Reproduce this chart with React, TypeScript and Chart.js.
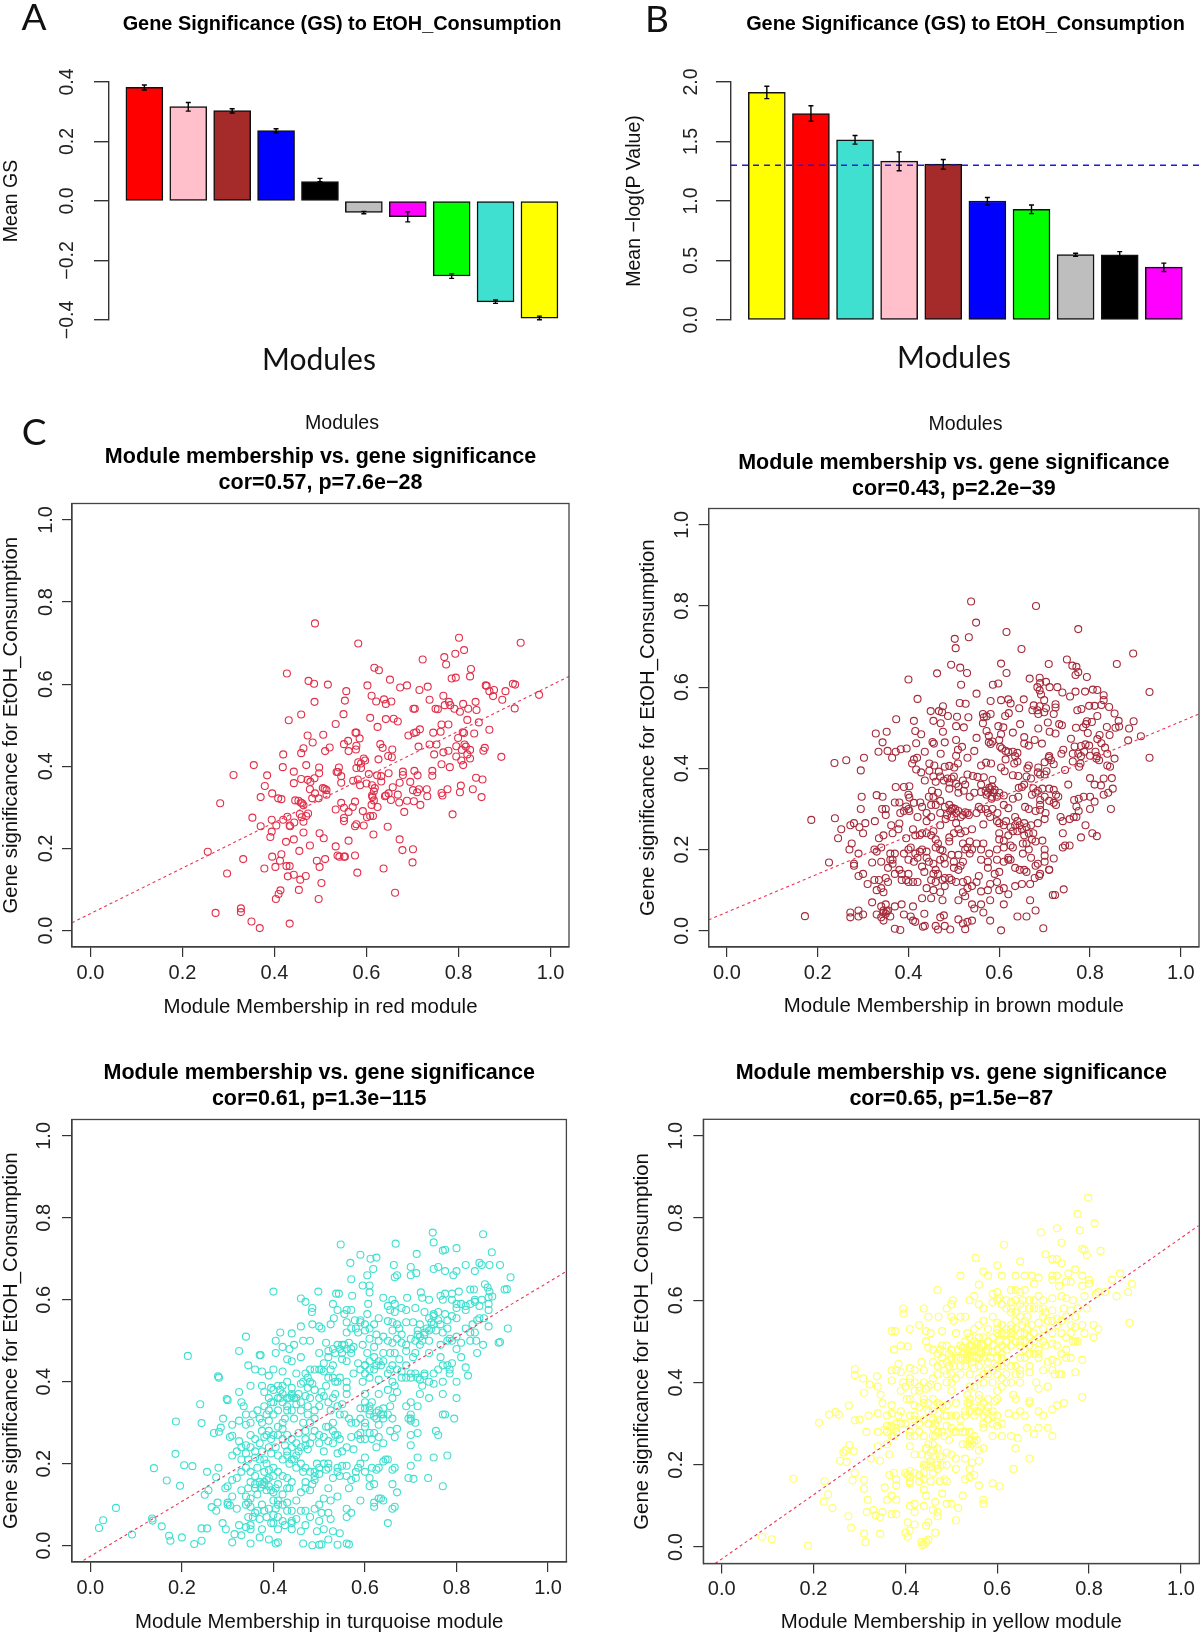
import React, { useEffect, useRef } from "react";
import { Chart, registerables } from "chart.js";

Chart.register(...registerables);

const panelAModules = ["red", "pink", "brown", "blue", "black", "grey", "magenta", "green", "turquoise", "yellow"];
const panelAColors = ["#ff0000", "#ffc0cb", "#a52a2a", "#0000ff", "#000000", "#bebebe", "#ff00ff", "#00ff00", "#40e0d0", "#ffff00"];
const panelAMeans = [0.382, 0.317, 0.304, 0.237, 0.065, -0.038, -0.053, -0.252, -0.339, -0.394];
const panelAErrHigh = [0.39, 0.331, 0.31, 0.243, 0.076, -0.035, -0.036, -0.245, -0.333, -0.387];
const panelAErrLow = [0.373, 0.302, 0.296, 0.229, 0.065, -0.043, -0.07, -0.26, -0.344, -0.399];

const panelBModules = ["yellow", "red", "turquoise", "pink", "brown", "blue", "green", "grey", "black", "magenta"];
const panelBColors = ["#ffff00", "#ff0000", "#40e0d0", "#ffc0cb", "#a52a2a", "#0000ff", "#00ff00", "#bebebe", "#000000", "#ff00ff"];
const panelBMeans = [1.913, 1.735, 1.514, 1.335, 1.31, 1.0, 0.93, 0.55, 0.547, 0.444];
const panelBErrHigh = [1.964, 1.8, 1.55, 1.413, 1.349, 1.03, 0.966, 0.561, 0.575, 0.478];
const panelBErrLow = [1.86, 1.67, 1.478, 1.254, 1.268, 0.966, 0.894, 0.536, 0.534, 0.408];
const panelBThreshold = 1.3;

const redFit = [[-0.04, 0.019], [1.04, 0.619]];
const brownFit = [[-0.04, 0.027], [1.04, 0.534]];
const turquoiseFit = [[-0.015, -0.036], [1.038, 0.668]];
const yellowFit = [[-0.014, -0.04], [1.038, 0.781]];

const redPoints = [[.488,.748],[.582,.699],[.935,.701],[.801,.713],[.812,.683],[.793,.674],[.769,.666],[.773,.648],[.722,.66],[.427,.626],[.617,.64],[.627,.634],[.827,.637],[.825,.619],[.785,.614],[.794,.616],[.651,.611],[.474,.608],[.486,.601],[.516,.599],[.602,.597],[.673,.592],[.688,.597],[.733,.594],[.859,.597],[.861,.596],[.918,.601],[.923,.599],[.556,.583],[.715,.586],[.867,.583],[.877,.586],[.902,.583],[.875,.571],[.975,.574],[.767,.572],[.611,.572],[.638,.563],[.621,.558],[.642,.552],[.654,.558],[.553,.56],[.487,.557],[.737,.562],[.779,.557],[.81,.552],[.837,.557],[.895,.562],[.77,.549],[.782,.549],[.702,.54],[.705,.54],[.75,.54],[.755,.539],[.791,.54],[.803,.533],[.821,.54],[.839,.537],[.922,.541],[.458,.526],[.55,.527],[.608,.518],[.642,.515],[.659,.516],[.668,.509],[.431,.512],[.533,.503],[.624,.496],[.716,.49],[.708,.483],[.763,.502],[.778,.502],[.819,.513],[.844,.507],[.809,.483],[.812,.481],[.745,.482],[.761,.484],[.834,.48],[.867,.489],[.472,.475],[.506,.477],[.576,.482],[.578,.482],[.585,.468],[.691,.475],[.703,.481],[.799,.469],[.483,.458],[.56,.462],[.551,.454],[.63,.454],[.635,.445],[.578,.45],[.577,.441],[.561,.437],[.52,.446],[.51,.437],[.463,.444],[.458,.432],[.419,.429],[.656,.441],[.713,.448],[.737,.453],[.752,.453],[.795,.449],[.813,.453],[.816,.448],[.767,.434],[.778,.438],[.747,.429],[.807,.44],[.825,.44],[.819,.429],[.825,.419],[.857,.445],[.854,.438],[.647,.425],[.655,.422],[.626,.417],[.594,.419],[.597,.414],[.795,.424],[.806,.414],[.81,.403],[.893,.423],[.582,.41],[.588,.407],[.355,.403],[.763,.405],[.469,.403],[.497,.397],[.418,.398],[.54,.397],[.578,.396],[.588,.396],[.781,.398],[.535,.386],[.538,.386],[.442,.387],[.497,.383],[.605,.381],[.704,.389],[.679,.387],[.679,.379],[.648,.383],[.623,.378],[.632,.376],[.632,.363],[.711,.378],[.743,.389],[.743,.377],[.311,.379],[.384,.378],[.545,.376],[.458,.369],[.472,.367],[.487,.371],[.478,.362],[.442,.359],[.379,.352],[.545,.36],[.571,.365],[.581,.368],[.586,.354],[.6,.358],[.612,.354],[.618,.347],[.616,.339],[.672,.36],[.695,.362],[.657,.349],[.805,.353],[.838,.372],[.852,.368],[.477,.344],[.505,.347],[.509,.345],[.513,.342],[.701,.342],[.71,.337],[.714,.344],[.731,.344],[.776,.344],[.763,.335],[.765,.329],[.803,.337],[.831,.344],[.488,.334],[.395,.334],[.37,.325],[.513,.331],[.496,.322],[.482,.322],[.408,.322],[.415,.32],[.612,.329],[.613,.325],[.616,.317],[.642,.329],[.648,.334],[.64,.327],[.668,.331],[.732,.327],[.85,.325],[.653,.318],[.671,.312],[.688,.316],[.703,.315],[.717,.306],[.282,.31],[.445,.317],[.452,.316],[.457,.312],[.46,.31],[.463,.305],[.545,.311],[.575,.314],[.551,.299],[.57,.301],[.611,.306],[.624,.301],[.533,.295],[.561,.289],[.592,.291],[.682,.289],[.787,.283],[.473,.285],[.455,.284],[.459,.276],[.469,.279],[.352,.275],[.394,.27],[.419,.27],[.428,.277],[.551,.274],[.551,.267],[.601,.276],[.608,.279],[.614,.279],[.463,.265],[.443,.263],[.433,.256],[.434,.254],[.578,.259],[.575,.254],[.594,.256],[.37,.254],[.404,.256],[.646,.253],[.394,.241],[.463,.239],[.391,.228],[.498,.237],[.507,.225],[.615,.234],[.442,.222],[.425,.216],[.561,.219],[.672,.222],[.255,.192],[.477,.207],[.533,.205],[.701,.198],[.678,.196],[.454,.194],[.415,.186],[.395,.18],[.332,.174],[.412,.17],[.537,.183],[.541,.18],[.551,.18],[.553,.18],[.575,.183],[.51,.174],[.492,.17],[.7,.166],[.378,.151],[.402,.155],[.426,.157],[.433,.157],[.498,.155],[.637,.151],[.297,.139],[.58,.141],[.429,.132],[.442,.136],[.468,.133],[.456,.124],[.502,.116],[.453,.099],[.413,.098],[.409,.089],[.403,.077],[.496,.077],[.662,.092],[.327,.054],[.327,.045],[.272,.043],[.35,.022],[.433,.017],[.368,.006]];

const brownPoints = [[.538,.811],[.681,.8],[.549,.759],[.774,.743],[.616,.736],[.533,.723],[.502,.719],[.504,.696],[.649,.694],[.895,.683],[.749,.668],[.761,.653],[.77,.65],[.604,.658],[.709,.657],[.859,.657],[.494,.655],[.514,.648],[.529,.635],[.463,.634],[.616,.635],[.774,.637],[.768,.63],[.793,.625],[.4,.619],[.667,.621],[.689,.623],[.586,.606],[.598,.609],[.516,.606],[.69,.61],[.703,.613],[.711,.6],[.728,.6],[.684,.6],[.689,.592],[.739,.587],[.768,.589],[.756,.577],[.789,.589],[.806,.594],[.816,.593],[.931,.588],[.83,.58],[.83,.568],[.55,.584],[.692,.582],[.699,.568],[.42,.571],[.604,.568],[.62,.57],[.625,.56],[.654,.57],[.581,.566],[.513,.561],[.526,.559],[.644,.548],[.676,.555],[.673,.543],[.689,.553],[.684,.543],[.703,.548],[.724,.558],[.724,.55],[.772,.543],[.781,.546],[.798,.554],[.81,.554],[.825,.556],[.842,.551],[.476,.553],[.449,.541],[.467,.541],[.474,.538],[.487,.529],[.507,.527],[.564,.534],[.581,.534],[.566,.526],[.572,.528],[.621,.536],[.613,.529],[.686,.534],[.699,.538],[.72,.534],[.532,.526],[.373,.521],[.412,.517],[.455,.517],[.471,.511],[.564,.511],[.646,.509],[.707,.513],[.732,.509],[.738,.506],[.793,.516],[.816,.529],[.854,.535],[.863,.517],[.896,.516],[.769,.5],[.785,.501],[.804,.514],[.791,.509],[.837,.502],[.505,.504],[.522,.501],[.598,.504],[.609,.501],[.856,.5],[.864,.503],[.886,.498],[.415,.492],[.428,.484],[.476,.49],[.572,.492],[.577,.48],[.63,.488],[.604,.484],[.686,.498],[.711,.49],[.724,.486],[.758,.473],[.795,.487],[.816,.472],[.328,.486],[.352,.49],[.821,.482],[.843,.482],[.912,.479],[.884,.469],[.505,.47],[.55,.475],[.655,.477],[.678,.47],[.694,.461],[.343,.464],[.417,.462],[.453,.465],[.456,.461],[.48,.464],[.577,.464],[.581,.46],[.585,.466],[.602,.453],[.614,.443],[.655,.461],[.665,.456],[.64,.438],[.766,.454],[.79,.459],[.798,.456],[.825,.462],[.833,.451],[.334,.441],[.354,.443],[.372,.441],[.383,.447],[.396,.449],[.364,.426],[.436,.441],[.471,.436],[.509,.446],[.518,.453],[.505,.431],[.545,.443],[.606,.449],[.63,.441],[.741,.446],[.737,.436],[.762,.436],[.774,.436],[.787,.441],[.812,.441],[.8,.431],[.814,.424],[.838,.436],[.854,.424],[.931,.426],[.302,.426],[.237,.413],[.263,.42],[.295,.395],[.412,.422],[.419,.426],[.408,.412],[.446,.412],[.457,.407],[.48,.404],[.49,.406],[.509,.412],[.501,.402],[.53,.426],[.56,.407],[.571,.414],[.582,.412],[.614,.422],[.64,.417],[.633,.412],[.665,.407],[.686,.402],[.709,.426],[.714,.42],[.72,.41],[.762,.417],[.779,.412],[.776,.404],[.838,.407],[.844,.404],[.417,.397],[.428,.39],[.446,.394],[.467,.392],[.604,.402],[.612,.393],[.662,.4],[.63,.383],[.704,.393],[.7,.385],[.745,.396],[.83,.375],[.8,.376],[.848,.376],[.752,.36],[.81,.36],[.824,.358],[.436,.37],[.46,.367],[.478,.37],[.486,.375],[.495,.375],[.505,.362],[.53,.385],[.542,.381],[.552,.379],[.566,.378],[.585,.372],[.56,.36],[.578,.352],[.584,.355],[.59,.347],[.6,.34],[.642,.381],[.66,.38],[.655,.36],[.643,.352],[.65,.354],[.675,.351],[.685,.345],[.71,.35],[.72,.347],[.372,.354],[.39,.354],[.402,.356],[.402,.328],[.412,.315],[.426,.316],[.445,.33],[.452,.345],[.465,.34],[.49,.35],[.51,.34],[.522,.345],[.535,.33],[.545,.34],[.56,.342],[.572,.335],[.584,.33],[.595,.33],[.61,.333],[.63,.325],[.642,.33],[.672,.335],[.69,.322],[.7,.33],[.725,.335],[.73,.33],[.765,.322],[.775,.325],[.786,.33],[.81,.318],[.83,.335],[.84,.34],[.85,.35],[.846,.3],[.8,.3],[.775,.295],[.77,.306],[.33,.334],[.343,.33],[.297,.33],[.295,.3],[.342,.3],[.35,.3],[.37,.316],[.38,.316],[.395,.306],[.402,.295],[.382,.29],[.35,.285],[.42,.28],[.44,.29],[.45,.31],[.46,.31],[.48,.305],[.49,.31],[.495,.3],[.503,.3],[.51,.295],[.52,.285],[.53,.29],[.55,.29],[.555,.305],[.57,.3],[.585,.3],[.596,.29],[.61,.31],[.62,.302],[.657,.305],[.665,.3],[.69,.298],[.72,.315],[.702,.29],[.735,.28],[.755,.275],[.764,.28],[.238,.277],[.186,.273],[.28,.265],[.305,.265],[.326,.27],[.272,.26],[.292,.255],[.252,.25],[.3,.24],[.362,.26],[.38,.264],[.378,.25],[.365,.24],[.41,.25],[.425,.236],[.44,.24],[.455,.245],[.47,.26],[.482,.275],[.495,.28],[.505,.265],[.51,.25],[.525,.245],[.54,.25],[.565,.262],[.58,.28],[.595,.27],[.61,.26],[.625,.255],[.64,.27],[.65,.25],[.665,.24],[.685,.265],[.7,.275],[.74,.24],[.78,.23],[.805,.24],[.815,.233],[.245,.228],[.335,.228],[.345,.235],[.395,.228],[.415,.235],[.46,.225],[.49,.23],[.535,.22],[.55,.215],[.565,.215],[.6,.225],[.61,.222],[.625,.21],[.64,.245],[.652,.215],[.672,.225],[.695,.222],[.74,.205],[.755,.21],[.275,.215],[.27,.2],[.29,.19],[.325,.2],[.33,.195],[.34,.205],[.36,.19],[.365,.175],[.39,.19],[.405,.205],[.425,.195],[.44,.195],[.46,.205],[.478,.18],[.495,.187],[.51,.187],[.525,.2],[.535,.19],[.56,.2],[.578,.19],[.595,.2],[.61,.205],[.63,.205],[.652,.19],[.665,.2],[.7,.2],[.7,.185],[.72,.178],[.225,.168],[.28,.165],[.28,.16],[.32,.168],[.34,.17],[.365,.165],[.4,.175],[.412,.17],[.43,.158],[.445,.17],[.455,.165],[.48,.165],[.5,.155],[.52,.17],[.56,.175],[.575,.17],[.595,.175],[.62,.175],[.645,.15],[.685,.165],[.69,.14],[.71,.15],[.29,.135],[.3,.14],[.335,.125],[.37,.14],[.38,.15],[.41,.12],[.435,.145],[.455,.14],[.475,.125],[.49,.13],[.51,.15],[.53,.125],[.555,.135],[.58,.115],[.6,.145],[.61,.105],[.635,.11],[.65,.115],[.668,.115],[.678,.13],[.688,.135],[.31,.115],[.325,.125],[.33,.1],[.345,.095],[.355,.12],[.385,.125],[.4,.12],[.42,.12],[.44,.105],[.455,.1],[.48,.11],[.505,.12],[.52,.095],[.525,.085],[.56,.097],[.575,.1],[.6,.1],[.62,.09],[.718,.088],[.723,.088],[.742,.102],[.32,.07],[.35,.065],[.37,.06],[.385,.065],[.41,.06],[.43,.08],[.45,.08],[.475,.075],[.51,.075],[.54,.065],[.56,.065],[.58,.075],[.61,.065],[.668,.075],[.172,.036],[.272,.045],[.29,.05],[.3,.04],[.272,.033],[.29,.035],[.33,.04],[.34,.033],[.345,.045],[.352,.048],[.36,.035],[.39,.04],[.405,.035],[.435,.042],[.47,.033],[.478,.038],[.51,.028],[.545,.055],[.565,.045],[.64,.035],[.66,.035],[.68,.05],[.41,.025],[.415,.022],[.345,.025],[.37,.005],[.382,.002],[.432,.01],[.436,.012],[.46,.012],[.465,.003],[.48,.012],[.492,.003],[.52,.018],[.525,.004],[.53,.022],[.54,.025],[.58,.025],[.604,.001],[.697,.006]];

const brownCore = [[.4,.335],[.43,.305],[.47,.29],[.485,.285],[.492,.295],[.498,.302],[.505,.29],[.515,.28],[.525,.292],[.533,.285],[.57,.345],[.575,.34],[.58,.348],[.588,.34],[.583,.325],[.56,.3],[.575,.29],[.6,.265],[.615,.27],[.635,.26],[.645,.26],[.655,.265],[.63,.245],[.635,.28],[.66,.255],[.675,.24],[.68,.22],[.66,.215],[.43,.24],[.45,.235],[.465,.215],[.47,.2],[.475,.198],[.49,.22],[.5,.24],[.515,.24],[.52,.215],[.53,.205],[.54,.2],[.43,.2],[.42,.18],[.44,.18],[.47,.175],[.46,.15],[.465,.14],[.52,.12],[.53,.105],[.54,.11],[.55,.12],[.46,.12],[.45,.125],[.47,.095],[.48,.13],[.495,.125],[.4,.14],[.395,.125],[.385,.14],[.35,.13],[.34,.105],[.36,.175],[.37,.19],[.355,.155],[.4,.2],[.415,.19],[.345,.05],[.35,.042],[.355,.05],[.34,.06],[.5,.17],[.515,.16],[.575,.155],[.59,.14],[.595,.12],[.61,.17],[.62,.18],[.625,.175],[.635,.155],[.655,.15],[.66,.145],[.68,.16],[.7,.17],[.71,.15],[.67,.18],[.6,.24],[.62,.235],[.655,.235],[.67,.26],[.68,.295],[.69,.31],[.71,.32],[.725,.31],[.74,.27],[.745,.21],[.77,.28],[.79,.26],[.8,.33],[.52,.37],[.5,.38],[.47,.38],[.455,.38],[.49,.365],[.51,.355],[.525,.36],[.68,.34],[.695,.35],[.67,.375],[.685,.39],[.69,.385],[.7,.415],[.71,.43],[.78,.43],[.78,.455],[.815,.43],[.82,.42],[.6,.47],[.62,.44],[.635,.43],[.455,.33],[.47,.32],[.44,.27],[.45,.28],[.39,.295],[.4,.3]];

const turquoisePoints = [[.019,.043],[.028,.062],[.056,.092],[.091,.027],[.135,.066],[.136,.061],[.139,.189],[.156,.047],[.167,.159],[.172,.024],[.175,.012],[.187,.303],[.186,.224],[.196,.146],[.2,.02],[.205,.196],[.213,.463],[.223,.194],[.227,.004],[.24,.345],[.243,.299],[.243,.042],[.243,.012],[.255,.042],[.255,.18],[.258,.135],[.25,.124],[.265,.094],[.27,.275],[.275,.167],[.275,.085],[.278,.105],[.281,.278],[.279,.413],[.281,.41],[.28,.19],[.285,.288],[.29,.31],[.289,.055],[.296,.04],[.298,.358],[.3,.105],[.305,.098],[.31,.268],[.748,.764],[.858,.76],[.75,.74],[.667,.737],[.547,.735],[.77,.72],[.775,.722],[.8,.726],[.877,.716],[.713,.712],[.59,.71],[.625,.703],[.612,.7],[.568,.69],[.663,.685],[.7,.68],[.76,.68],[.82,.685],[.85,.69],[.855,.685],[.872,.685],[.895,.685],[.618,.675],[.75,.675],[.775,.67],[.8,.67],[.605,.66],[.7,.66],[.712,.665],[.665,.655],[.67,.66],[.793,.66],[.918,.655],[.84,.67],[.57,.65],[.595,.635],[.61,.635],[.4,.62],[.498,.62],[.537,.615],[.543,.615],[.61,.618],[.862,.638],[.868,.63],[.872,.62],[.87,.606],[.878,.608],[.905,.625],[.91,.626],[.83,.625],[.838,.625],[.805,.62],[.722,.618],[.64,.605],[.692,.605],[.725,.605],[.765,.61],[.775,.615],[.79,.615],[.74,.6],[.77,.6],[.79,.6],[.8,.59],[.82,.585],[.84,.595],[.85,.585],[.46,.603],[.47,.595],[.485,.58],[.53,.59],[.54,.575],[.57,.575],[.572,.61],[.607,.59],[.65,.585],[.655,.575],[.665,.57],[.69,.575],[.71,.58],[.73,.57],[.75,.565],[.775,.565],[.8,.555],[.82,.575],[.845,.55],[.87,.575],[.484,.57],[.5,.535],[.525,.54],[.532,.555],[.555,.565],[.578,.55],[.59,.55],[.605,.565],[.63,.555],[.65,.548],[.69,.545],[.705,.545],[.72,.54],[.745,.545],[.76,.55],[.78,.53],[.82,.53],[.86,.555],[.87,.535],[.912,.53],[.46,.535],[.485,.54],[.505,.53],[.56,.52],[.585,.52],[.6,.525],[.625,.515],[.66,.525],[.675,.53],[.715,.525],[.73,.52],[.755,.525],[.785,.505],[.84,.52],[.415,.52],[.44,.518],[.48,.5],[.465,.5],[.445,.49],[.515,.495],[.54,.49],[.555,.49],[.575,.485],[.595,.49],[.61,.505],[.65,.5],[.68,.495],[.72,.51],[.74,.5],[.765,.49],[.81,.495],[.83,.5],[.843,.5],[.892,.495],[.895,.497],[.858,.49],[.405,.5],[.42,.485],[.435,.48],[.34,.51],[.325,.475],[.405,.47],[.43,.455],[.44,.45],[.37,.465],[.372,.465],[.345,.44],[.46,.46],[.5,.47],[.52,.46],[.55,.47],[.57,.47],[.585,.445],[.62,.46],[.64,.45],[.665,.47],[.69,.475],[.71,.47],[.74,.47],[.765,.46],[.79,.445],[.81,.46],[.845,.47],[.36,.43],[.375,.425],[.4,.43],[.39,.415],[.42,.425],[.45,.42],[.475,.41],[.49,.43],[.505,.43],[.525,.43],[.545,.41],[.575,.42],[.6,.44],[.62,.43],[.655,.43],[.68,.425],[.7,.42],[.73,.415],[.76,.43],[.785,.42],[.82,.435],[.825,.415],[.35,.39],[.375,.39],[.395,.385],[.415,.38],[.44,.385],[.465,.4],[.485,.395],[.515,.39],[.535,.4],[.56,.385],[.595,.4],[.63,.405],[.665,.39],[.69,.41],[.725,.39],[.75,.395],[.8,.4],[.325,.375],[.3,.355],[.33,.35],[.335,.34],[.38,.375],[.41,.36],[.435,.36],[.455,.37],[.48,.36],[.505,.375],[.53,.36],[.56,.37],[.6,.35],[.63,.37],[.67,.375],[.7,.35],[.72,.37],[.74,.36],[.77,.37],[.8,.36],[.34,.32],[.355,.32],[.365,.33],[.385,.32],[.395,.35],[.43,.33],[.46,.33],[.475,.34],[.5,.34],[.525,.33],[.555,.32],[.59,.335],[.61,.32],[.625,.325],[.64,.335],[.66,.31],[.695,.31],[.7,.305],[.715,.34],[.77,.32],[.775,.32],[.795,.31],[.325,.305],[.34,.295],[.31,.295],[.375,.3],[.39,.305],[.42,.3],[.445,.31],[.465,.3],[.49,.31],[.52,.29],[.545,.32],[.565,.31],[.58,.3],[.6,.29],[.63,.295],[.655,.28],[.67,.285],[.7,.27],[.715,.275],[.755,.28],[.76,.27],[.36,.26],[.375,.28],[.395,.26],[.42,.285],[.455,.275],[.47,.26],[.5,.27],[.53,.28],[.54,.27],[.59,.275],[.615,.26],[.64,.25],[.665,.265],[.7,.245],[.305,.265],[.325,.255],[.34,.245],[.31,.22],[.33,.21],[.34,.225],[.375,.23],[.39,.24],[.405,.24],[.43,.23],[.455,.23],[.475,.235],[.51,.23],[.54,.225],[.575,.235],[.6,.215],[.625,.24],[.645,.21],[.715,.215],[.75,.215],[.78,.22],[.35,.18],[.365,.19],[.385,.2],[.4,.19],[.42,.21],[.45,.19],[.48,.18],[.495,.2],[.52,.19],[.55,.195],[.585,.19],[.615,.19],[.625,.185],[.66,.185],[.665,.19],[.7,.195],[.695,.165],[.706,.163],[.738,.165],[.77,.145],[.295,.14],[.33,.135],[.36,.15],[.38,.155],[.375,.15],[.385,.16],[.41,.15],[.435,.14],[.44,.155],[.47,.155],[.49,.16],[.545,.17],[.56,.17],[.58,.165],[.61,.165],[.66,.15],[.31,.12],[.345,.105],[.36,.14],[.385,.135],[.42,.125],[.46,.13],[.48,.135],[.52,.14],[.54,.12],[.565,.14],[.59,.11],[.62,.105],[.635,.115],[.67,.13],[.3,.1],[.32,.09],[.35,.095],[.375,.1],[.4,.11],[.405,.09],[.44,.085],[.46,.085],[.49,.09],[.505,.08],[.525,.11],[.56,.09],[.57,.08],[.62,.095],[.66,.09],[.665,.095],[.345,.07],[.365,.085],[.385,.07],[.41,.07],[.425,.05],[.44,.055],[.47,.05],[.5,.06],[.525,.065],[.56,.07],[.65,.055],[.325,.05],[.34,.045],[.35,.04],[.375,.04],[.395,.055],[.44,.04],[.46,.035],[.495,.035],[.51,.04],[.53,.035],[.315,.028],[.33,.025],[.35,.005],[.31,.008],[.37,.02],[.39,.015],[.405,.005],[.41,.008],[.465,.005],[.485,.001],[.5,.002],[.505,.003],[.52,.015],[.54,.002],[.545,.03],[.56,.005],[.565,.003]];

const turquoiseCore = [[.37,.155],[.38,.148],[.372,.142],[.39,.165],[.39,.145],[.395,.135],[.4,.13],[.405,.14],[.4,.17],[.36,.17],[.35,.155],[.365,.125],[.38,.18],[.39,.185],[.41,.18],[.42,.17],[.43,.165],[.345,.14],[.35,.115],[.34,.12],[.4,.075],[.41,.1],[.39,.09],[.42,.1],[.43,.105],[.45,.11],[.43,.085],[.38,.085],[.37,.065],[.4,.055],[.41,.04],[.45,.065],[.47,.085],[.48,.07],[.5,.1],[.51,.115],[.52,.08],[.53,.165],[.5,.175],[.515,.185],[.49,.18],[.47,.19],[.465,.18],[.46,.2],[.445,.21],[.44,.24],[.425,.245],[.41,.22],[.395,.225],[.36,.215],[.345,.21],[.35,.24],[.37,.25],[.385,.27],[.4,.27],[.41,.29],[.425,.31],[.43,.34],[.44,.33],[.45,.345],[.42,.35],[.41,.33],[.4,.32],[.39,.33],[.42,.37],[.43,.36],[.44,.365],[.45,.36],[.46,.35],[.47,.365],[.475,.385],[.48,.4],[.49,.38],[.5,.36],[.51,.365],[.52,.35],[.535,.37],[.54,.34],[.55,.345],[.49,.33],[.475,.32],[.48,.3],[.47,.28],[.485,.265],[.47,.245],[.48,.25],[.49,.28],[.5,.25],[.51,.265],[.52,.255],[.53,.25],[.515,.29],[.53,.3],[.535,.27],[.545,.26],[.56,.24],[.55,.23],[.57,.265],[.57,.3],[.585,.27],[.59,.26],[.6,.26],[.61,.275],[.62,.275],[.63,.265],[.6,.3],[.59,.31],[.61,.33],[.62,.315],[.625,.31],[.635,.32],[.63,.33],[.64,.32],[.65,.32],[.61,.34],[.615,.35],[.6,.37],[.6,.335],[.64,.31],[.655,.34],[.66,.36],[.65,.38],[.61,.41],[.6,.42],[.59,.43],[.61,.43],[.625,.44],[.635,.44],[.65,.42],[.66,.44],[.675,.455],[.69,.44],[.7,.41],[.71,.42],[.715,.41],[.72,.405],[.73,.42],[.74,.4],[.75,.42],[.77,.4],[.785,.43],[.7,.505],[.71,.5],[.715,.515],[.725,.5],[.73,.515],[.735,.53],[.74,.525],[.745,.53],[.75,.54],[.74,.555],[.72,.49],[.705,.46],[.69,.49],[.68,.515],[.67,.505],[.66,.495],[.64,.51],[.63,.5],[.62,.485],[.605,.47],[.53,.48],[.535,.47],[.545,.48],[.55,.49],[.56,.48],[.565,.495],[.57,.48],[.52,.475],[.51,.445],[.53,.44],[.55,.455],[.56,.45],[.52,.41],[.53,.41],[.54,.4],[.56,.4],[.51,.425],[.5,.43],[.48,.43],[.47,.42],[.46,.395],[.43,.4],[.415,.36],[.44,.37],[.445,.36],[.77,.44],[.78,.44],[.8,.48],[.79,.5],[.8,.51],[.77,.52],[.765,.54],[.78,.5],[.67,.54],[.66,.545],[.68,.58],[.665,.59],[.66,.6],[.62,.54],[.61,.53],[.6,.54],[.59,.545],[.58,.53],[.56,.545],[.57,.53],[.56,.575],[.75,.56],[.76,.57],[.78,.55],[.79,.56],[.8,.58],[.81,.59],[.83,.59],[.84,.6],[.855,.6],[.87,.59],[.85,.555],[.835,.54],[.83,.52],[.44,.21],[.435,.2],[.43,.22],[.45,.22],[.46,.24],[.45,.25],[.44,.26],[.43,.27],[.42,.26],[.41,.27],[.33,.24],[.32,.23],[.34,.19],[.33,.18],[.32,.165],[.31,.16],[.3,.145],[.34,.1],[.36,.08],[.355,.07],[.35,.05],[.41,.11],[.42,.06],[.44,.06],[.43,.14],[.47,.14],[.485,.15],[.49,.17],[.5,.19],[.51,.2],[.52,.2],[.54,.19],[.54,.18],[.56,.195],[.57,.16],[.58,.18],[.59,.2],[.6,.18],[.61,.145],[.62,.15],[.63,.19],[.64,.205],[.65,.21],[.63,.115],[.64,.11],[.36,.23],[.37,.21],[.38,.21],[.38,.265],[.39,.28],[.35,.3],[.35,.27],[.37,.31],[.38,.34],[.39,.36],[.4,.38],[.4,.35],[.41,.39],[.42,.39],[.6,.44],[.61,.45],[.63,.45],[.64,.47],[.655,.47],[.67,.43],[.68,.41],[.66,.4],[.69,.34],[.7,.32],[.7,.31],[.71,.3]];

const yellowPoints = [[.088,.025],[.109,.019],[.188,.003],[.156,.166],[.224,.16],[.222,.11],[.232,.128],[.241,.095],[.212,.302],[.234,.322],[.248,.328],[.255,.322],[.277,.344],[.29,.308],[.3,.31],[.276,.075],[.282,.047],[.31,.033],[.313,.012],[.258,.21],[.265,.23],[.27,.235],[.278,.248],[.288,.233],[.272,.207],[.29,.18],[.285,.162],[.31,.163],[.31,.142],[.318,.115],[.316,.085],[.33,.09],[.335,.077],[.345,.073],[.345,.032],[.29,.433],[.29,.418],[.308,.41],[.322,.395],[.338,.415],[.34,.39],[.31,.375],[.346,.37],[.35,.35],[.32,.32],[.34,.325],[.325,.215],[.34,.245],[.345,.21],[.36,.25],[.365,.225],[.315,.28],[.34,.28],[.355,.285],[.37,.295],[.38,.29],[.39,.3],[.36,.32],[.37,.325],[.385,.32],[.37,.345],[.39,.33],[.403,.36],[.37,.43],[.38,.43],[.385,.445],[.39,.425],[.37,.405],[.395,.4],[.39,.38],[.37,.525],[.378,.525],[.375,.48],[.39,.49],[.405,.488],[.41,.53],[.395,.58],[.396,.568],[.44,.58],[.45,.56],[.47,.625],[.5,.56],[.505,.55],[.49,.58],[.5,.59],[.503,.6],[.52,.56],[.53,.56],[.54,.6],[.55,.61],[.56,.59],[.57,.58],[.51,.52],[.535,.52],[.472,.56],[.43,.54],[.445,.525],[.455,.52],[.48,.525],[.445,.5],[.45,.485],[.46,.48],[.475,.48],[.49,.49],[.495,.47],[.515,.48],[.525,.485],[.535,.47],[.535,.455],[.54,.49],[.545,.475],[.55,.5],[.555,.46],[.56,.485],[.565,.47],[.57,.51],[.575,.475],[.58,.53],[.59,.475],[.605,.5],[.61,.54],[.62,.5],[.63,.51],[.64,.53],[.65,.52],[.66,.48],[.67,.47],[.68,.52],[.69,.48],[.41,.435],[.42,.43],[.435,.45],[.44,.43],[.46,.45],[.47,.44],[.48,.445],[.495,.44],[.505,.44],[.52,.44],[.53,.44],[.55,.435],[.56,.44],[.58,.45],[.6,.44],[.61,.46],[.62,.45],[.65,.43],[.67,.425],[.7,.43],[.71,.45],[.72,.43],[.735,.42],[.41,.4],[.42,.38],[.43,.39],[.445,.385],[.455,.395],[.47,.39],[.49,.4],[.5,.4],[.51,.41],[.54,.42],[.56,.41],[.57,.42],[.59,.4],[.61,.39],[.63,.4],[.65,.4],[.685,.4],[.69,.385],[.71,.39],[.41,.36],[.42,.345],[.44,.35],[.46,.36],[.475,.345],[.49,.345],[.51,.35],[.535,.37],[.54,.35],[.56,.37],[.58,.36],[.595,.355],[.635,.37],[.64,.36],[.67,.355],[.67,.35],[.72,.335],[.73,.345],[.745,.35],[.785,.365],[.42,.31],[.43,.3],[.45,.3],[.465,.3],[.485,.32],[.5,.32],[.52,.31],[.54,.33],[.56,.33],[.57,.32],[.59,.3],[.6,.32],[.625,.325],[.64,.32],[.65,.33],[.66,.32],[.69,.33],[.7,.32],[.41,.28],[.44,.27],[.46,.27],[.48,.28],[.49,.295],[.505,.28],[.52,.29],[.53,.28],[.57,.29],[.59,.27],[.6,.295],[.61,.27],[.63,.27],[.645,.265],[.665,.29],[.68,.275],[.69,.29],[.71,.29],[.72,.27],[.41,.245],[.42,.225],[.435,.225],[.445,.24],[.45,.22],[.46,.235],[.48,.22],[.49,.23],[.5,.225],[.525,.25],[.535,.25],[.54,.245],[.545,.26],[.55,.255],[.56,.235],[.57,.24],[.64,.24],[.67,.215],[.445,.2],[.455,.195],[.465,.2],[.49,.2],[.51,.215],[.53,.215],[.545,.205],[.56,.21],[.51,.19],[.54,.19],[.55,.175],[.365,.175],[.375,.18],[.38,.165],[.405,.175],[.41,.185],[.43,.175],[.44,.165],[.455,.16],[.475,.16],[.485,.165],[.53,.165],[.54,.17],[.56,.15],[.59,.155],[.605,.148],[.635,.19],[.355,.145],[.37,.125],[.38,.15],[.41,.155],[.44,.14],[.445,.125],[.465,.11],[.48,.13],[.525,.125],[.36,.115],[.38,.115],[.37,.08],[.38,.08],[.35,.085],[.41,.1],[.42,.105],[.42,.085],[.44,.1],[.46,.09],[.47,.085],[.47,.075],[.49,.105],[.5,.105],[.515,.095],[.57,.105],[.57,.115],[.405,.06],[.42,.055],[.445,.052],[.45,.06],[.41,.04],[.4,.035],[.405,.025],[.465,.035],[.51,.065],[.435,.012],[.437,.005],[.44,.008],[.445,.012],[.45,.018],[.798,.849],[.775,.81],[.812,.787],[.73,.775],[.695,.765],[.78,.77],[.74,.74],[.615,.735],[.785,.725],[.79,.722],[.795,.71],[.825,.72],[.705,.712],[.72,.7],[.73,.7],[.74,.69],[.553,.703],[.65,.695],[.6,.685],[.57,.67],[.58,.66],[.56,.638],[.52,.66],[.61,.66],[.64,.66],[.66,.66],[.675,.66],[.69,.655],[.72,.66],[.73,.66],[.72,.65],[.77,.675],[.755,.665],[.785,.66],[.8,.65],[.75,.645],[.76,.645],[.867,.665],[.85,.65],[.68,.64],[.735,.635],[.785,.635],[.8,.64],[.893,.64],[.885,.62],[.63,.625],[.64,.625],[.65,.62],[.66,.625],[.59,.615],[.6,.62],[.605,.605],[.62,.6],[.64,.6],[.655,.6],[.69,.61],[.72,.605],[.74,.61],[.75,.605],[.765,.6],[.79,.61],[.815,.615],[.82,.62],[.835,.62],[.86,.61],[.59,.595],[.63,.595],[.65,.59],[.67,.58],[.68,.58],[.7,.58],[.72,.575],[.745,.58],[.76,.575],[.775,.58],[.795,.58],[.63,.57],[.65,.56],[.665,.56],[.69,.545],[.72,.55],[.73,.555],[.75,.56],[.77,.535],[.785,.54],[.81,.54],[.82,.53],[.888,.545],[.6,.545],[.61,.54],[.63,.52],[.7,.53],[.74,.52],[.75,.51],[.765,.5],[.775,.5],[.79,.52],[.81,.51],[.72,.495],[.73,.49],[.75,.48],[.69,.47],[.705,.49],[.74,.47],[.75,.46],[.76,.46],[.72,.455],[.73,.45],[.785,.455],[.77,.425],[.725,.42],[.74,.42]];

const yellowCore = [[.525,.47],[.53,.46],[.535,.48],[.54,.46],[.54,.475],[.545,.45],[.545,.49],[.55,.465],[.55,.48],[.555,.475],[.555,.495],[.56,.46],[.565,.49],[.57,.46],[.57,.49],[.58,.48],[.585,.46],[.59,.49],[.6,.48],[.61,.49],[.52,.49],[.53,.5],[.54,.51],[.56,.51],[.6,.53],[.61,.52],[.62,.53],[.63,.54],[.64,.55],[.655,.54],[.66,.55],[.66,.52],[.665,.53],[.67,.51],[.675,.54],[.64,.5],[.65,.49],[.63,.49],[.62,.48],[.61,.47],[.64,.57],[.655,.58],[.67,.6],[.68,.6],[.69,.58],[.7,.6],[.71,.55],[.705,.57],[.63,.58],[.62,.58],[.61,.59],[.6,.6],[.59,.56],[.57,.55],[.56,.54],[.55,.53],[.445,.24],[.45,.25],[.455,.23],[.455,.21],[.46,.22],[.45,.2],[.46,.25],[.465,.27],[.47,.24],[.475,.22],[.48,.2],[.47,.19],[.49,.16],[.485,.27],[.495,.26],[.5,.29],[.51,.28],[.525,.28],[.54,.28],[.545,.25],[.55,.27],[.555,.26],[.54,.26],[.53,.33],[.535,.35],[.54,.36],[.55,.34],[.555,.33],[.565,.34],[.57,.35],[.575,.33],[.58,.34],[.59,.33],[.6,.36],[.6,.38],[.62,.4],[.61,.41],[.62,.42],[.6,.42],[.58,.42],[.57,.4],[.55,.39],[.54,.39],[.5,.38],[.48,.34],[.47,.35],[.46,.33],[.45,.35],[.44,.36],[.43,.34],[.42,.32],[.41,.32],[.4,.3],[.41,.27],[.42,.27],[.43,.28],[.37,.27],[.36,.28],[.38,.3],[.36,.295],[.375,.27],[.38,.28],[.5,.42],[.49,.42],[.485,.43],[.47,.42],[.46,.41],[.45,.39],[.44,.4],[.43,.38],[.42,.4],[.41,.41],[.4,.39],[.52,.42],[.5,.46],[.49,.45],[.48,.46],[.47,.47],[.48,.49],[.5,.48],[.51,.46],[.52,.46],[.58,.43],[.59,.43],[.6,.46],[.63,.44],[.64,.44],[.65,.46],[.66,.46],[.67,.44],[.68,.47],[.69,.46],[.7,.5],[.69,.51],[.68,.5],[.67,.49],[.66,.5],[.65,.5],[.58,.5],[.59,.51],[.6,.52],[.62,.52],[.63,.53],[.7,.56],[.72,.52],[.73,.54],[.74,.55],[.76,.54],[.77,.56],[.76,.52],[.77,.5],[.64,.42],[.65,.42],[.61,.44],[.56,.36],[.55,.32],[.57,.3],[.58,.31],[.59,.32],[.61,.3],[.53,.32],[.51,.32],[.49,.32],[.47,.31],[.46,.31],[.44,.31],[.45,.33],[.46,.29],[.47,.28],[.44,.2],[.47,.2],[.46,.18],[.44,.18],[.43,.16],[.41,.16],[.4,.18],[.41,.17],[.42,.18]];

const TXT = "Liberation Sans, Arial, sans-serif";
const AX = "#333333";

const toXY = (rows: number[][]) => rows.map((r) => ({ x: r[0], y: r[1] }));

function fixedBox(size: number) {
  return (s: any) => {
    if (s.isHorizontal()) s.height = size;
    else s.width = size;
    s.paddingLeft = s.paddingRight = s.paddingTop = s.paddingBottom = 0;
  };
}

const errorBars = (low: number[], high: number[]) => ({
  id: "errorBars",
  afterDatasetsDraw(chart: any) {
    const { ctx, scales } = chart;
    ctx.save();
    ctx.strokeStyle = "#000";
    ctx.lineWidth = 1.4;
    low.forEach((lo, i) => {
      const x = scales.x.getPixelForValue(i);
      const a = scales.y.getPixelForValue(lo);
      const b = scales.y.getPixelForValue(high[i]);
      ctx.beginPath();
      ctx.moveTo(x, a);
      ctx.lineTo(x, b);
      ctx.moveTo(x - 2.5, a);
      ctx.lineTo(x + 2.5, a);
      ctx.moveTo(x - 2.5, b);
      ctx.lineTo(x + 2.5, b);
      ctx.stroke();
    });
    ctx.restore();
  },
});

const plotFrame = {
  id: "plotFrame",
  afterDraw(chart: any) {
    const { ctx, chartArea: c } = chart;
    ctx.save();
    ctx.strokeStyle = "#444";
    ctx.lineWidth = 1.3;
    ctx.strokeRect(c.left, c.top, c.right - c.left, c.bottom - c.top);
    ctx.restore();
  },
};

function barConfig(p: any) {
  const datasets: any[] = [];
  if (p.threshold !== undefined) {
    datasets.push({
      type: "line",
      data: [{ x: p.xMin, y: p.threshold }, { x: p.xMax, y: p.threshold }],
      borderColor: "#1a1ae6",
      borderWidth: 1.6,
      borderDash: [6, 5],
      pointRadius: 0,
    });
  }
  datasets.push({
    type: "bar",
    label: "Modules",
    data: p.means.map((v: number, i: number) => ({ x: i, y: v, module: p.modules[i] })),
    backgroundColor: p.colors,
    borderColor: "#111",
    borderWidth: 1.5,
    borderSkipped: false,
    barThickness: 37,
  });
  return {
    type: "bar",
    data: { datasets },
    plugins: [errorBars(p.low, p.high)],
    options: {
      responsive: false,
      animation: false,
      layout: { padding: 0, autoPadding: false },
      plugins: {
        legend: { display: false },
        tooltip: { enabled: false },
        title: {
          display: true,
          fullSize: false,
          text: "Gene Significance (GS) to EtOH_Consumption",
          color: "#000",
          font: { family: TXT, size: 19.9, weight: "bold", lineHeight: 1 },
          padding: { top: 15, bottom: 47.1 },
        },
      },
      scales: {
        x: {
          type: "linear",
          offset: false,
          min: p.xMin,
          max: p.xMax,
          grid: { display: false },
          border: { display: false },
          ticks: { display: false },
          afterFit: fixedBox(30),
        },
        y: {
          min: p.yMin,
          max: p.yMax,
          title: {
            display: true,
            text: p.yTitle,
            color: "#111",
            font: { family: TXT, size: 19.5, lineHeight: 1 },
            padding: { top: p.yTitleShift, bottom: 0 },
          },
          grid: { drawOnChartArea: false, color: AX, tickLength: 15, lineWidth: 1.4 },
          border: { display: true, color: AX, width: 1.4 },
          ticks: {
            stepSize: p.step,
            autoSkip: false,
            minRotation: 90,
            maxRotation: 90,
            crossAlign: "center",
            padding: p.tickPad,
            color: "#222",
            font: { family: TXT, size: 19.5 },
            callback: (v: number) => v.toFixed(1).replace("-", "\u2212"),
          },
          afterFit: fixedBox(p.yBox),
        },
      },
    },
  };
}

function scatterConfig(p: any) {
  return {
    type: "scatter",
    data: {
      datasets: [
        {
          data: toXY(p.fit),
          showLine: true,
          borderColor: "#ee3355",
          borderWidth: 1.1,
          borderDash: [3, 3],
          pointRadius: 0,
        },
        {
          label: p.module,
          data: toXY(p.points),
          pointStyle: "circle",
          pointRadius: 3.5,
          pointBorderWidth: 1.1,
          pointBorderColor: p.color,
          pointBackgroundColor: "rgba(0,0,0,0)",
          borderColor: p.color,
          backgroundColor: "rgba(0,0,0,0)",
        },
      ],
    },
    plugins: [plotFrame],
    options: {
      responsive: false,
      animation: false,
      layout: { padding: { right: p.padRight }, autoPadding: false },
      plugins: {
        legend: { display: false },
        tooltip: { enabled: false },
        title: {
          display: true,
          fullSize: false,
          text: ["Module membership vs. gene significance", p.stat],
          color: "#000",
          font: { family: TXT, size: 21.5, weight: "bold", lineHeight: p.titleLine / 21.5 },
          padding: { top: 0, bottom: p.titleGap },
        },
      },
      scales: {
        x: {
          type: "linear",
          min: -0.04,
          max: 1.04,
          title: {
            display: true,
            text: `Module Membership in ${p.module} module`,
            color: "#111",
            font: { family: TXT, size: 20.4, lineHeight: 1 },
            padding: { top: 0, bottom: 0 },
          },
          grid: { drawOnChartArea: false, color: AX, tickLength: 10, lineWidth: 1.2 },
          border: { display: true, color: AX, width: 1.2 },
          ticks: {
            stepSize: 0.2,
            includeBounds: false,
            autoSkip: false,
            maxRotation: 0,
            padding: 4,
            color: "#222",
            font: { family: TXT, size: 20 },
            callback: (v: number) => v.toFixed(1),
          },
          afterFit: fixedBox(p.xBox),
        },
        y: {
          min: -0.04,
          max: 1.04,
          title: {
            display: true,
            text: "Gene significance for EtOH_Consumption",
            color: "#111",
            font: { family: TXT, size: 20.3, lineHeight: 1 },
            padding: { top: p.yTitleShift, bottom: 0 },
          },
          grid: { drawOnChartArea: false, color: AX, tickLength: 10, lineWidth: 1.2 },
          border: { display: true, color: AX, width: 1.2 },
          ticks: {
            stepSize: 0.2,
            includeBounds: false,
            autoSkip: false,
            minRotation: 90,
            maxRotation: 90,
            crossAlign: "center",
            padding: p.tickPad,
            color: "#222",
            font: { family: TXT, size: 20 },
            callback: (v: number) => v.toFixed(1),
          },
          afterFit: fixedBox(p.yBox),
        },
      },
    },
  };
}

const panels: any[] = [
  {
    rect: [0, 0, 575, 350],
    config: barConfig({
      modules: panelAModules, colors: panelAColors, means: panelAMeans, low: panelAErrLow, high: panelAErrHigh,
      xMin: -0.806, xMax: 9.81, yMin: -0.4, yMax: 0.4, step: 0.2, yTitle: "Mean GS", tickPad: 7, yBox: 109, yTitleShift: 2,
    }),
  },
  {
    rect: [624, 0, 576, 350],
    config: barConfig({
      modules: panelBModules, colors: panelBColors, means: panelBMeans, low: panelBErrLow, high: panelBErrHigh,
      threshold: panelBThreshold,
      xMin: -0.812, xMax: 9.82, yMin: 0, yMax: 2, step: 0.5, yTitle: "Mean \u2212log(P Value)", tickPad: 10.5, yBox: 107, yTitleShift: 1,
    }),
  },
  {
    rect: [0, 444, 571, 574],
    config: scatterConfig({
      module: "red", stat: "cor=0.57, p=7.6e\u221228", points: redPoints, fit: redFit, color: "#e2304a",
      padRight: 2, titleLine: 26, titleGap: 7.5, xBox: 71, yBox: 72, tickPad: 1.5, yTitleShift: 1,
    }),
  },
  {
    rect: [637, 449.5, 563, 567.5],
    config: scatterConfig({
      module: "brown", stat: "cor=0.43, p=2.2e\u221239", points: [...brownPoints, ...brownCore], fit: brownFit, color: "#a52a3a",
      padRight: 1, titleLine: 26, titleGap: 6.5, xBox: 70, yBox: 71.7, tickPad: 2.5, yTitleShift: 1.5,
    }),
  },
  {
    rect: [0, 1060, 568, 573],
    config: scatterConfig({
      module: "turquoise", stat: "cor=0.61, p=1.3e\u2212115", points: [...turquoisePoints, ...turquoiseCore], fit: turquoiseFit, color: "#40e0d0",
      padRight: 1.6, titleLine: 26, titleGap: 7.5, xBox: 71, yBox: 72, tickPad: 3.5, yTitleShift: 1,
    }),
  },
  {
    rect: [631, 1059.5, 569, 573.5],
    config: scatterConfig({
      module: "yellow", stat: "cor=0.65, p=1.5e\u221287", points: [...yellowPoints, ...yellowCore], fit: yellowFit, color: "#ffff66",
      padRight: 0.7, titleLine: 26, titleGap: 7.3, xBox: 69.5, yBox: 72.3, tickPad: 2.5, yTitleShift: 1.5,
    }),
  },
];

const notes: any[] = [
  { text: "A", x: 34, y: 15, size: 37, font: "Lato, sans-serif" },
  { text: "B", x: 657, y: 17, size: 37, font: "Lato, sans-serif" },
  { text: "C", x: 34, y: 430, size: 37, font: "Lato, sans-serif" },
  { text: "Modules", x: 319, y: 358, size: 30, font: "Lato, sans-serif" },
  { text: "Modules", x: 954, y: 356, size: 30, font: "Lato, sans-serif" },
  { text: "Modules", x: 342, y: 423, size: 19.6, font: TXT },
  { text: "Modules", x: 965.5, y: 424, size: 19.6, font: TXT },
];

export default function App() {
  const refs = useRef<(HTMLCanvasElement | null)[]>([]);
  useEffect(() => {
    const charts = panels.map((p, i) => new Chart(refs.current[i] as HTMLCanvasElement, p.config));
    return () => charts.forEach((c) => c.destroy());
  }, []);
  return (
    <div style={{ position: "absolute", left: 0, top: 0, width: 1200, height: 1634, background: "#fff", overflow: "hidden" }}>
      {panels.map((p, i) => (
        <canvas
          key={i}
          ref={(el) => { refs.current[i] = el; }}
          width={p.rect[2]}
          height={p.rect[3]}
          style={{ position: "absolute", left: p.rect[0], top: p.rect[1], width: p.rect[2], height: p.rect[3] }}
        />
      ))}
      {notes.map((n, i) => (
        <div
          key={i}
          style={{
            position: "absolute", left: n.x, top: n.y, transform: "translate(-50%,-50%)",
            fontFamily: n.font, fontSize: n.size, lineHeight: 1, whiteSpace: "nowrap", color: "#111",
          }}
        >
          {n.text}
        </div>
      ))}
    </div>
  );
}
